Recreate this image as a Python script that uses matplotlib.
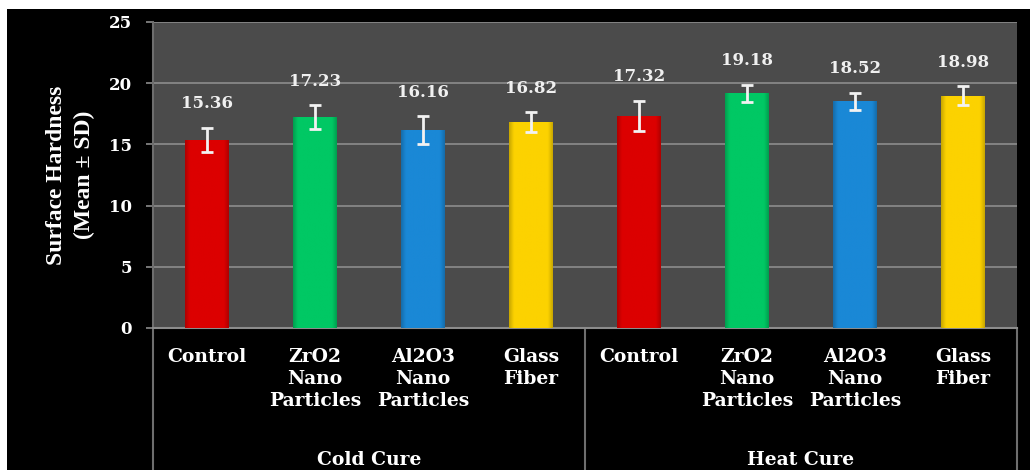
import numpy as np
import matplotlib.pyplot as plt
import matplotlib.colors as mcolors
from matplotlib.patches import Rectangle

# dados do grafico
groups = ['Cold Cure', 'Heat Cure']
materials = ['Control', 'ZrO2\nNano\nParticles', 'Al2O3\nNano\nParticles', 'Glass\nFiber']
means = [15.36, 17.23, 16.16, 16.82, 17.32, 19.18, 18.52, 18.98]
sds = [1.0, 0.95, 1.15, 0.8, 1.25, 0.7, 0.7, 0.8]
bar_colors = ['#dc0000', '#00c864', '#1a88d6', '#fcd200']

serif = 'Liberation Serif'
wide_serif = 'DejaVu Serif'

fig = plt.figure(figsize=(10.3, 4.7), dpi=100)
fig.patch.set_facecolor('white')
# fundo preto com borda branca na esquerda e no topo
fig.patches.append(Rectangle((7 / 1030, 0), 1, 1 - 9 / 470, transform=fig.transFigure,
                             facecolor='black', edgecolor='none', zorder=-10))

ax = fig.add_axes([153 / 1030, 1 - 328 / 470, (1017 - 153) / 1030, (328 - 22) / 470])
ax.set_facecolor('#4b4b4b')

n = len(means)
x = np.arange(n)
cols = [bar_colors[i % len(bar_colors)] for i in range(n)]
width = 0.4

bars = ax.bar(x, means, width=width, color=cols, zorder=3)

# sombreamento leve nas bordas das barras
t = np.linspace(0, 1, 60)
shade = 0.8 + 0.2 * np.clip(np.sin(np.pi * t) * 3, 0, 1)
for b, c in zip(bars, cols):
    rgb = np.array(mcolors.to_rgb(c))
    img = np.clip(rgb[None, None, :] * shade[None, :, None], 0, 1)
    x0 = b.get_x()
    im = ax.imshow(img, extent=(x0, x0 + b.get_width(), 0, b.get_height()),
                   aspect='auto', zorder=4, interpolation='bilinear')
    im.set_clip_path(b)

ax.errorbar(x, means, yerr=sds, fmt='none', ecolor='#f2f2f2', elinewidth=2,
            capsize=4, capthick=2, zorder=5)

for xi, m, s in zip(x, means, sds):
    ax.annotate(f'{m:.2f}', (xi, m + s), xytext=(0, 11), textcoords='offset points',
                ha='center', va='bottom', color='#f0f0f0', fontsize=12,
                fontweight='bold', family=wide_serif, zorder=6)

ax.set_xlim(-0.5, n - 0.5)
ax.set_ylim(0, 25)
ax.set_yticks([0, 5, 10, 15, 20, 25])
ax.yaxis.grid(True, color='#8c8c8c', linewidth=1.2, zorder=0)
ax.set_axisbelow(True)
ax.set_xticks([])
ax.tick_params(axis='y', length=5, width=1.2, color='#8c8c8c', pad=10,
               labelcolor='white', labelsize=12)
for lab in ax.get_yticklabels():
    lab.set_fontfamily(wide_serif)
    lab.set_fontweight('bold')

for side in ['top', 'right']:
    ax.spines[side].set_visible(False)
ax.spines['bottom'].set_color('#8c8c8c')
ax.spines['bottom'].set_linewidth(1.5)
ax.spines['left'].set_color('#6e6e6e')
ax.spines['left'].set_linewidth(1.5)

# tabela de rotulos abaixo do eixo
trans = ax.get_xaxis_transform()
for xi in x:
    ax.text(xi, -0.065, materials[xi % len(materials)], transform=trans, ha='center', va='top',
            color='white', fontsize=13.5, fontweight='bold', family=wide_serif,
            linespacing=1.3, clip_on=False)
for g, name in enumerate(groups):
    ax.text(g * 4 + 1.5, -0.43, name, transform=trans, ha='center', va='center',
            color='white', fontsize=13.5, fontweight='bold', family=wide_serif, clip_on=False)
for xv in [-0.5, 3.5, n - 0.5]:
    ax.plot([xv, xv], [0, -0.5], transform=trans, color='#6e6e6e', linewidth=1.5,
            clip_on=False, zorder=1)

ax.set_ylabel('Surface Hardness\n(Mean ± SD)', color='white', fontsize=17,
              fontweight='bold', family=serif, linespacing=1.45)
ax.yaxis.set_label_coords(-0.067, 0.5)

fig.savefig('out.png', dpi=100, facecolor=fig.get_facecolor())
